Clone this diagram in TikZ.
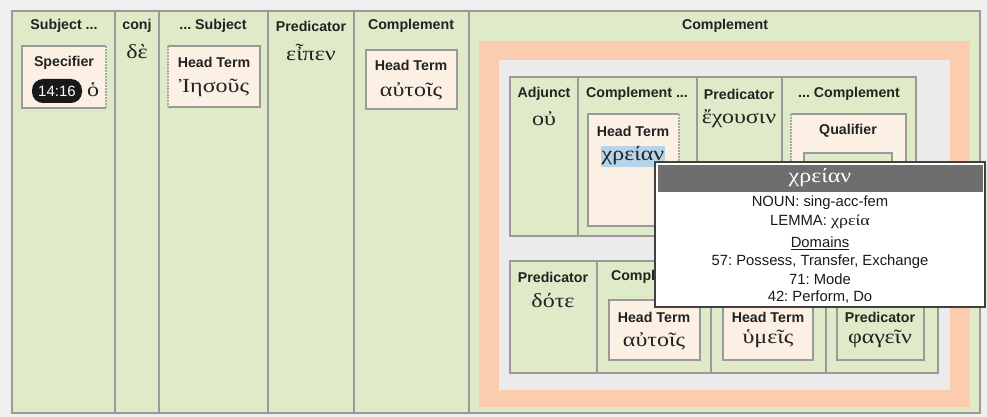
\documentclass[tikz,border=0pt]{standalone}
\usepackage{fontspec}
\setmainfont{Liberation Serif}
\newfontfamily\labfont{Liberation Sans}
\newfontfamily\grkfont[FakeStretch=1.2]{Liberation Serif}
\usetikzlibrary{shadows}
\frenchspacing
\definecolor{bg}{HTML}{EFEFEF}
\definecolor{grn}{HTML}{DFEBC8}
\definecolor{bdr}{HTML}{9A9A9A}
\definecolor{pch}{HTML}{FCEFE4}
\definecolor{org}{HTML}{FBCDAE}
\definecolor{gry}{HTML}{EBEBEB}
\definecolor{hdr}{HTML}{6E6E6E}
\definecolor{hil}{HTML}{B7D5EA}
\definecolor{ink}{HTML}{222222}
\newcommand\bx[6]{\node[#6, inner sep=0pt, outer sep=0pt, anchor=north west, minimum width={(#4)-(#2)}, minimum height={(#5)-(#3)}] (#1) at (#2,#3) {};}
\tikzset{
  lbl/.style={font=\labfont\bfseries\fontsize{14.2}{16}\selectfont, text=ink, inner sep=0pt},
  grk/.style={font=\grkfont\fontsize{20}{22}\selectfont, text=ink, inner sep=0pt},
  colbox/.style={fill=grn, draw=bdr, line width=1.6pt},
  clbox/.style={fill=grn, draw=bdr, line width=2.2pt},
  pbox/.style={fill=pch, draw=bdr, line width=2.6pt},
  pfill/.style={fill=pch},
  sideline/.style={draw=bdr, line width=2.6pt},
  dotside/.style={draw=bdr!85, line width=2.6pt, dash pattern=on 1.6pt off 1.4pt},
  tip/.style={font=\labfont\fontsize{14.8}{17}\selectfont\frenchspacing, text=black!90, inner sep=0pt},
}
\begin{document}
\begin{tikzpicture}[x=1pt,y=-1pt]
\useasboundingbox (0,0) rectangle (987,417);
\fill[bg] (0,0) rectangle (987,417);
% top-level columns
\bx{c1}{12}{11}{115}{413}{colbox}
\bx{c2}{115}{11}{159}{413}{colbox}
\bx{c3}{159}{11}{268}{413}{colbox}
\bx{c4}{268}{11}{354}{413}{colbox}
\bx{c5}{354}{11}{469}{413}{colbox}
\bx{c6}{469}{11}{980}{413}{colbox}
\node[lbl] (h1) at (64,26) {Subject ...};
\node[lbl] (h2) at (137,26) {conj};
\node[lbl] (h3) at (213,26) {... Subject};
\node[lbl] (h4) at (311,26) {Predicator};
\node[lbl] (h5) at (411,26) {Complement};
\node[lbl] (h6) at (725,26) {Complement};
\node[grk] (g2) at (137,52) {δὲ};
\node[grk] (g4) at (311,52) {εἶπεν};
% Specifier box
\bx{spec}{22}{46}{106}{108}{pfill}
\draw[sideline] (spec.north east) -- (spec.north west) -- (spec.south west) -- (spec.south east);
\draw[dotside] (spec.north east) -- (spec.south east);
\node[lbl] (specl) at (64,63) {Specifier};
\node[fill=black!90, rounded corners=11pt, minimum width=50pt, minimum height=24pt, inner sep=0pt, text=white, font=\labfont\fontsize{15}{17}\selectfont] (ref) at (57,91) {14:16};
\node[grk] (g1) at (93,90) {ὁ};
% Head term Iesous
\bx{ht1}{168}{46}{260}{107}{pfill}
\draw[sideline] (ht1.north west) -- (ht1.north east) -- (ht1.south east) -- (ht1.south west);
\draw[dotside] (ht1.north west) -- (ht1.south west);
\node[lbl] (ht1l) at (214,62) {Head Term};
\node[grk] (g3) at (214,88) {Ἰησοῦς};
% Head term autois
\bx{ht2}{366}{50}{457}{109}{pbox}
\node[lbl] (ht2l) at (411,65) {Head Term};
\node[grk] (g5) at (411,91) {αὐτοῖς};
% orange and gray bands
\bx{orng}{479}{41}{970}{407}{fill=org}
\bx{gryb}{499}{60}{950}{390}{fill=gry}
% upper clause
\bx{u1}{510}{77}{578}{236}{clbox}
\bx{u2}{578}{77}{697}{236}{clbox}
\bx{u3}{697}{77}{782}{236}{clbox}
\bx{u4}{782}{77}{916}{236}{clbox}
\node[lbl] (uh1) at (544,94) {Adjunct};
\node[lbl] (uh2) at (637,94) {Complement ...};
\node[lbl] (uh3) at (739,94) {Predicator};
\node[lbl] (uh4) at (849,94) {... Complement};
\node[grk] (ug1) at (544,119) {οὐ};
\node[grk] (ug3) at (739,119) {ἔχουσιν};
\bx{ht3}{588}{114}{679}{226}{pfill}
\draw[sideline] (ht3.north east) -- (ht3.north west) -- (ht3.south west) -- (ht3.south east);
\draw[dotside] (ht3.north east) -- (ht3.south east);
\node[lbl] (ht3l) at (633,131) {Head Term};
\node[grk, fill=hil, inner xsep=1pt, minimum height=21pt] (ug2) at (633,156) {χρείαν};
\bx{qual}{791}{114}{906}{226}{pfill}
\draw[sideline] (qual.north west) -- (qual.north east) -- (qual.south east) -- (qual.south west);
\draw[dotside] (qual.north west) -- (qual.south west);
\node[lbl] (quall) at (848,131) {Qualifier};
\bx{qin}{804}{153}{892}{218}{clbox}
% lower clause
\bx{l1}{510}{261}{597}{373}{clbox}
\bx{l2}{597}{261}{711}{373}{clbox}
\bx{l3}{711}{261}{826}{373}{clbox}
\bx{l4}{826}{261}{938}{373}{clbox}
\node[lbl] (lh1) at (553,277) {Predicator};
\node[lbl] (lh2) at (654,277) {Complement};
\node[grk] (lg1) at (553,301) {δότε};
\bx{ht4}{609}{300}{700}{360}{pbox}
\node[lbl] (ht4l) at (654,317) {Head Term};
\node[grk] (lg2) at (654,341) {αὐτοῖς};
\bx{ht5}{723}{300}{813}{360}{pbox}
\node[lbl] (ht5l) at (768,317) {Head Term};
\node[grk] (lg3) at (768,339) {ὑμεῖς};
\bx{prd}{837}{300}{924}{360}{clbox}
\node[lbl] (prdl) at (880,317) {Predicator};
\node[grk] (lg4) at (880,339) {φαγεῖν};
% tooltip
\bx{tipb}{655}{162}{985}{307}{fill=white, draw=black!75, line width=1.4pt, drop shadow={opacity=0.35, shadow xshift=1.2pt, shadow yshift=-1.2pt}}
\bx{tiph}{657.5}{165}{982.5}{192}{fill=hdr}
\node[font=\grkfont\fontsize{20}{24}\selectfont, text=white, inner sep=0pt] (tipt) at (820,178) {χρείαν};
\node[tip] (t1) at (820,203) {NOUN: sing-acc-fem};
\node[tip] (t2) at (820,222) {LEMMA: {\grkfont\fontsize{15}{16}\selectfont χρεία}};
\node[tip] (t3) at (820,243) {\underline{Domains}};
\node[tip] (t4) at (820,262) {57: Possess, Transfer, Exchange};
\node[tip] (t5) at (820,279) {71: Mode};
\node[tip] (t6) at (820,297) {42: Perform, Do};
\end{tikzpicture}
\end{document}
